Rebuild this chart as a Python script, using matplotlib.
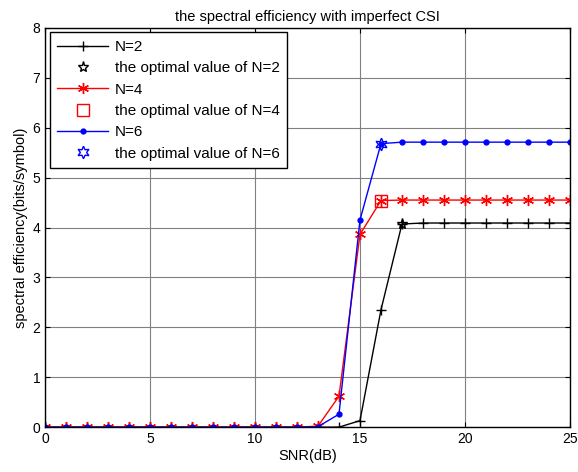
import matplotlib
matplotlib.use("Agg")
import matplotlib.pyplot as plt

plt.rcParams['font.family'] = ['Liberation Sans', 'DejaVu Sans']

snr = list(range(0, 26))

# spectral efficiency
se_n2 = [0]*15 + [0.13, 2.35, 4.07] + [4.09]*8
se_n4 = [0]*13 + [0.02, 0.62, 3.86, 4.54] + [4.55]*9
se_n6 = [0]*13 + [0.01, 0.26, 4.15, 5.68] + [5.71]*9

# optimal values
opt_x = [17, 16, 16]
opt_y = [4.07, 4.54, 5.68]

fig = plt.figure(figsize=(5.78, 4.72), dpi=100)
ax = fig.add_axes([0.078, 0.095, 0.908, 0.846])

ax.plot(snr, se_n2, color='black', marker='+', markersize=7, mew=1, lw=1, label='N=2')
ax.plot([opt_x[0]], [opt_y[0]], ls='none', marker='*', markersize=8, mfc='none',
        mec='black', label='the optimal value of N=2')
ax.plot(snr, se_n4, color='red', marker=(6, 2, 0), markersize=8, mew=1, lw=1, label='N=4')
ax.plot([opt_x[1]], [opt_y[1]], ls='none', marker='s', markersize=8, mfc='none',
        mec='red', label='the optimal value of N=4')
ax.plot(snr, se_n6, color='blue', marker='.', markersize=7, lw=1, label='N=6')
ax.plot([opt_x[2]], [opt_y[2]], ls='none', marker=(6, 1, 0), markersize=9, mfc='none',
        mec='blue', label='the optimal value of N=6')

ax.set_xlim(0, 25)
ax.set_ylim(0, 8)
ax.set_xticks(range(0, 26, 5))
ax.set_yticks(range(0, 9))
ax.grid(True, color='gray', lw=0.8)
ax.tick_params(direction='in', top=True, right=True, labelsize=10)
for s in ax.spines.values():
    s.set_linewidth(1)

ax.set_xlabel('SNR(dB)', fontsize=10.5, labelpad=2)
ax.set_ylabel('spectral efficiency(bits/symbol)', fontsize=10.5, labelpad=3)
ax.set_title('the spectral efficiency with imperfect CSI', fontsize=10.5, pad=5)

leg = ax.legend(loc='upper left', fontsize=11, fancybox=False, framealpha=1,
                edgecolor='black', borderaxespad=0.3, borderpad=0.5,
                handlelength=3.3, handletextpad=0.45, labelspacing=0.48)
leg.get_frame().set_linewidth(1)

fig.savefig('out.png', dpi=100)
